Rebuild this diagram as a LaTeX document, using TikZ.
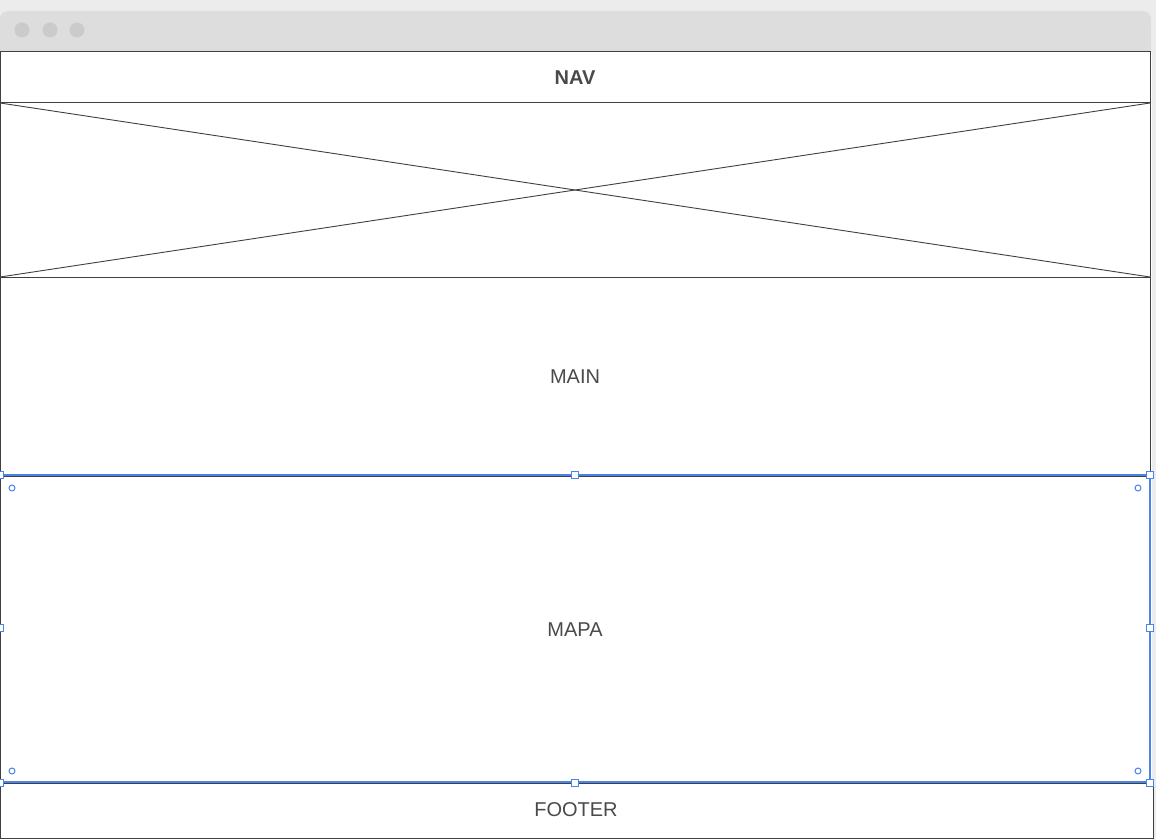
\documentclass[tikz,border=0pt]{standalone}
\usepackage{fontspec}
\setmainfont{Liberation Sans}
\definecolor{bgc}{HTML}{ECECEC}
\definecolor{barc}{HTML}{DDDDDD}
\definecolor{dotc}{HTML}{CBCBCB}
\definecolor{linec}{HTML}{404040}
\definecolor{txtc}{HTML}{4A4A4A}
\definecolor{selc}{HTML}{4A84E8}
\tikzset{
  panel/.style={draw=linec, line width=1pt, fill=white, inner sep=0pt, outer sep=0pt, text=txtc, font=\fontsize{20}{24}\selectfont},
  winsdot/.style={circle, fill=dotc, minimum size=15pt, inner sep=0pt},
  handlesq/.style={draw=selc, fill=white, line width=1pt, minimum size=7pt, inner sep=0pt},
  handleci/.style={circle, draw=selc, fill=white, line width=1pt, minimum size=6pt, inner sep=0pt},
  selline/.style={draw=selc, line width=1.2pt}
}
\begin{document}
\begin{tikzpicture}[x=1pt,y=-1pt]
\useasboundingbox (0,0) rectangle (1156,840);
\fill[bgc] (0,0) rectangle (1156,840);
% window title bar
\fill[barc, rounded corners=8pt] (0,11) rectangle (1151,60);
\fill[white] (0,52) rectangle (1152,840);
\node[winsdot] (d1) at (22,30) {};
\node[winsdot] (d2) at (50,30) {};
\node[winsdot] (d3) at (77,30) {};
% panels
\node[panel, minimum width=1150pt, minimum height=51pt, anchor=north west, font=\fontsize{20}{24}\selectfont\bfseries] (nav) at (0,52) {NAV};
\node[panel, minimum width=1150pt, minimum height=174pt, anchor=north west] (img) at (0,103) {};
\draw[linec, line width=0.9pt] (img.north west) -- (img.south east);
\draw[linec, line width=0.9pt] (img.south west) -- (img.north east);
\node[panel, minimum width=1150pt, minimum height=198pt, anchor=north west] (main) at (0,277) {};
\node[text=txtc, font=\fontsize{20}{24}\selectfont] (maint) at (575,377) {MAIN};
\node[panel, minimum width=1150pt, minimum height=307pt, anchor=north west] (mapa) at (0,476) {};
\node[text=txtc, font=\fontsize{20}{24}\selectfont] (mapat) at (575,630) {MAPA};
\node[panel, minimum width=1153pt, minimum height=55pt, anchor=north west] (foot) at (0,783) {};
\node[text=txtc, font=\fontsize{20}{24}\selectfont] (foott) at (576,810) {FOOTER};
% selection overlay
\coordinate (s1) at (0,475);
\coordinate (s2) at (1150,475);
\coordinate (s3) at (1150,782);
\coordinate (s4) at (0,782);
\draw[selline] (s1) -- (s2) -- (s3) -- (s4);
\node[handlesq] (h1) at (0,475) {};
\node[handlesq] (h2) at (575,475) {};
\node[handlesq] (h3) at (1150,475) {};
\node[handlesq] (h4) at (0,628) {};
\node[handlesq] (h5) at (1150,628) {};
\node[handlesq] (h6) at (0,783) {};
\node[handlesq] (h7) at (575,783) {};
\node[handlesq] (h8) at (1150,783) {};
\node[handleci] (c1) at (12,488) {};
\node[handleci] (c2) at (1138,488) {};
\node[handleci] (c3) at (12,771) {};
\node[handleci] (c4) at (1138,771) {};
\end{tikzpicture}
\end{document}
